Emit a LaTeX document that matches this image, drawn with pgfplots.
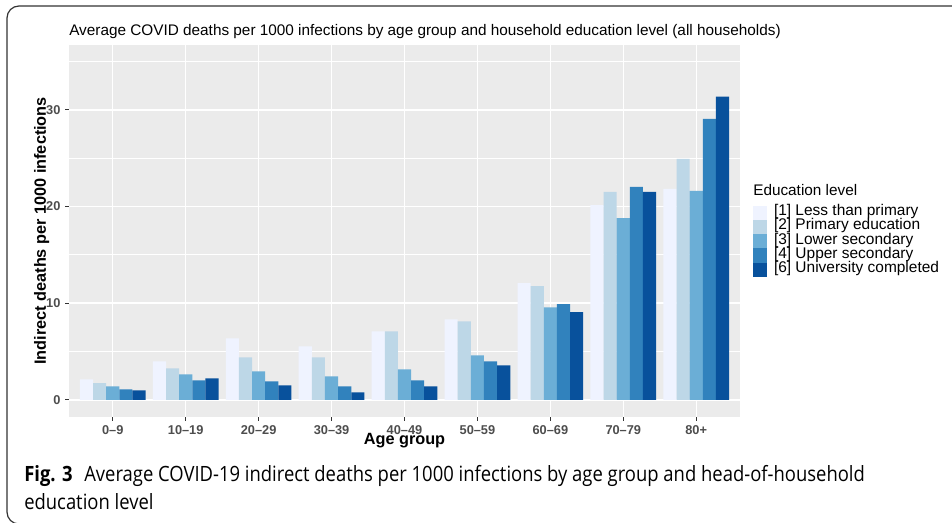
\documentclass[border=0pt]{standalone}
\usepackage{fontspec}
\setmainfont{Liberation Sans}
\newfontfamily\capfont[FakeStretch=0.875]{Open Sans}
\usepackage{pgfplots}
\pgfplotsset{compat=1.18}
\definecolor{c1}{HTML}{EFF3FF}
\definecolor{c2}{HTML}{BDD7E7}
\definecolor{c3}{HTML}{6BAED6}
\definecolor{c4}{HTML}{3182BD}
\definecolor{c5}{HTML}{08519C}
\definecolor{panel}{HTML}{EBEBEB}
\definecolor{ticklab}{HTML}{4D4D4D}
\definecolor{tickcol}{HTML}{333333}
\begin{document}
\begin{tikzpicture}
\begin{scope}[x=0.75pt,y=-0.75pt]
\useasboundingbox (0,0) rectangle (952,523);
\begin{scope}
\clip (0,0) rectangle (952,523);
\draw[tickcol, line width=0.9pt, rounded corners=9pt] (7,6) rectangle (1000,524);
\end{scope}
\node[anchor=base west, inner sep=0pt, font=\fontsize{11.5}{12}\selectfont] at (69,36) {Average COVID deaths per 1000 infections by age group and household education level (all households)};
\node[anchor=base west, inner sep=0pt, font=\fontsize{11.5}{12}\selectfont] at (753,196) {Education level};
\node[anchor=base west, inner sep=0pt, font=\capfont\fontsize{15.8}{20}\selectfont\bfseries] at (24,481.7) {Fig. 3};
\node[anchor=base west, inner sep=0pt, font=\capfont\fontsize{15.8}{20}\selectfont] at (84,481.7) {Average COVID-19 indirect deaths per 1000 infections by age group and head-of-household};
\node[anchor=base west, inner sep=0pt, font=\capfont\fontsize{15.8}{20}\selectfont] at (24,509.3) {education level};
\end{scope}
\begin{axis}[
  at={(51.75pt,-33.75pt)}, anchor=north west,
  width=503.25pt, height=278.8pt, scale only axis,
  xmin=0.4, xmax=9.6, ymin=-1.75, ymax=36.7,
  axis background/.style={fill=panel},
  axis line style={draw=none},
  ybar, bar width=0.18,
  legend image code/.code={\fill[#1] (0pt,-5.33pt) rectangle (10.5pt,5.33pt);},
  xtick={1,...,9},
  xticklabels={0–9,10–19,20–29,30–39,40–49,50–59,60–69,70–79,80+},
  ytick={0,10,20,30}, minor ytick={5,15,25,35},
  xmajorgrids, ymajorgrids, yminorgrids,
  major grid style={white, line width=1.1pt},
  minor grid style={white, line width=0.55pt},
  tick pos=left, tick align=outside, major tick length=3pt, minor tick length=0pt,
  tick style={tickcol, line width=0.6pt},
  ticklabel style={font=\bfseries\fontsize{9.6}{11}\selectfont, text=ticklab, inner sep=0pt},
  xticklabel style={yshift=-3.6pt},
  yticklabel style={xshift=-3.2pt},
  /pgf/number format/assume math mode=true,
  xlabel={Age group}, ylabel={Indirect deaths per 1000 infections},
  label style={font=\bfseries\fontsize{12.2}{13}\selectfont},
  xlabel style={at={(axis description cs:0.5,-0.0743)}, anchor=base},
  ylabel style={at={(axis description cs:-0.0343,0.5)}, anchor=base},
  legend style={at={(rel axis cs:1.0194,0.5677)}, anchor=north west, draw=none, fill=none,
    inner sep=0pt, outer sep=0pt, row sep=0pt, column sep=5.25pt,
    font=\fontsize{11.6}{12}\selectfont,
    nodes={inner sep=0pt, text height=7.5pt, text depth=3.15pt}},
  legend cell align=left,
]
\addplot[fill=c1, draw=none, bar shift=-0.36] coordinates {(1,2.11) (2,3.98) (3,6.36) (4,5.53) (5,7.09) (6,8.33) (7,12.06) (8,20.15) (9,21.81)};
\addplot[fill=c2, draw=none, bar shift=-0.18] coordinates {(1,1.73) (2,3.25) (3,4.39) (4,4.39) (5,7.09) (6,8.12) (7,11.75) (8,21.50) (9,24.92)};
\addplot[fill=c3, draw=none, bar shift=0] coordinates {(1,1.38) (2,2.63) (3,2.94) (4,2.42) (5,3.15) (6,4.60) (7,9.57) (8,18.80) (9,21.60)};
\addplot[fill=c4, draw=none, bar shift=0.18] coordinates {(1,1.07) (2,2.00) (3,1.90) (4,1.38) (5,2.00) (6,3.98) (7,9.89) (8,22.02) (9,29.07)};
\addplot[fill=c5, draw=none, bar shift=0.36] coordinates {(1,0.97) (2,2.21) (3,1.49) (4,0.76) (5,1.38) (6,3.56) (7,9.06) (8,21.50) (9,31.35)};
\legend{{\relax[1] Less than primary},{\relax[2] Primary education},{\relax[3] Lower secondary},{\relax[4] Upper secondary},{\relax[6] University completed}}
\end{axis}
\end{tikzpicture}
\end{document}
